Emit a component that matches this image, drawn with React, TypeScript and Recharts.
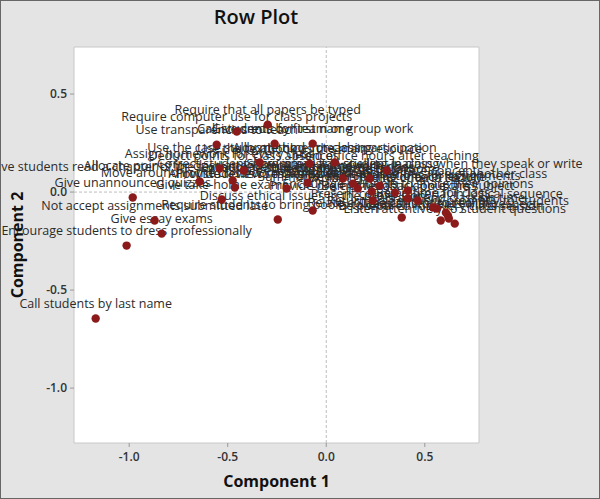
import React from "react"
import {
  ScatterChart,
  Scatter,
  XAxis,
  YAxis,
  ReferenceArea,
  ReferenceLine,
  Label,
} from "recharts"

// row names, component 1 and component 2 scores
const rowNames = [
  "Call students by last name",
  "Encourage students to dress professionally",
  "Give essay exams",
  "Not accept assignments submitted late",
  "Give unannounced quizzes",
  "Give take-home exams",
  "Discuss ethical issues in the profession",
  "Require students to bring books to class",
  "Require that all papers be typed",
  "Require computer use for class projects",
  "Call students by first name",
  "Use transparencies to teach",
  "Give credit for team or group work",
  "Use the case study method in teaching",
  "Allocate time for class participation",
  "Hold office hours after teaching",
  "Correct students' grammar and spelling in class when they speak or write",
  "Allow students to make up work missed because of another class",
  "Encourage students to share their opinions",
  "Provide prompt feedback on exams",
  "Return graded work promptly to students",
  "Present course material in logical sequence",
  "Listen attentively to student questions",
  "Relate course content to real life",
  "Be prepared for every class session",
  "Be on time for class",
  "Use humor in the classroom",
  "Summarize main points of each lecture",
  "Explain grading criteria clearly",
  "Give clear instructions for assignments",
  "Be enthusiastic about the subject",
  "Provide review sessions before exams",
  "Encourage students to ask questions",
  "Use the textbook as the main resource",
  "Have students read a chapter of the textbook before coming to each class",
  "Allocate points for class attendance and homework",
  "Move around in the classroom during lectures",
  "Treat all students with respect",
  "Start and end class on time",
  "Show interest in student learning",
  "Use examples to illustrate concepts",
  "Deduct points for class absences",
  "Assign homework for every class",
]

const comp1 = [
  -1.17, -1.013, -0.835, -0.871, -0.982, -0.53, -0.069, -0.246, -0.297, -0.454,
  -0.262, -0.556, -0.069, -0.338, 0.043, 0.307, 0.221, 0.16, 0.414, 0.236,
  0.617, 0.561, 0.652, 0.383, 0.581, 0.541, 0.135, 0.231, 0.348, 0.414,
  0.464, -0.201, -0.094, -0.084, -0.642, -0.475, -0.464, 0.622, 0.607, 0.084,
  0.272, -0.419, -0.541,
]

const comp2 = [
  -0.645, -0.273, -0.212, -0.145, -0.028, -0.038, -0.094, -0.14, 0.344, 0.309,
  0.247, 0.242, 0.247, 0.151, 0.151, 0.11, 0.069, 0.018, -0.033, -0.043,
  -0.12, -0.084, -0.161, -0.13, -0.145, -0.079, 0.043, 0.003, -0.003, 0.008,
  -0.043, 0.018, 0.048, 0.145, 0.054, 0.059, 0.023, -0.135, -0.105, 0.069,
  0.033, 0.11, 0.12,
]

const axisTicks = [-1, -0.5, 0, 0.5]

const data = rowNames.map((name, i) => ({ name, x: comp1[i], y: comp2[i] }))

const FONT = "'Open Sans', 'Noto Sans', sans-serif"

const NameLabel = (props: any) => {
  const { cx, cy, payload } = props
  return (
    <text
      x={cx}
      y={cy - 15}
      dy="0.35em"
      textAnchor="middle"
      fontSize={12.5}
      fontFamily={FONT}
      fill="#2b2b2b"
    >
      {payload.name}
    </text>
  )
}

const Dot = (props: any) => {
  const { cx, cy } = props
  return <circle cx={cx} cy={cy} r={4.2} fill="#8b1a1a" />
}

const fmt = (v: number) => v.toFixed(1)

export default function App() {
  return (
    <div
      style={{
        position: "fixed",
        left: 0,
        top: 0,
        width: 600,
        height: 499,
        boxSizing: "border-box",
        border: "1px solid #666",
        background: "#e4e4e4",
        fontFamily: FONT,
        overflow: "hidden",
      }}
    >
      <div
        style={{
          position: "absolute",
          left: 0,
          width: 510,
          top: 2,
          textAlign: "center",
          fontSize: 20,
          fontWeight: 600,
          color: "#111",
        }}
      >
        Row Plot
      </div>
      <div style={{ position: "absolute", left: -1, top: -1 }}>
        <ScatterChart
          width={600}
          height={499}
          margin={{ top: 47, right: 121, bottom: 0, left: 0 }}
          style={{ overflow: "visible" }}
        >
          <XAxis
            type="number"
            dataKey="x"
            domain={[-1.28, 0.775]}
            ticks={axisTicks}
            tickFormatter={fmt}
            height={56}
            axisLine={false}
            tickSize={4}
            tickMargin={5}
            tickLine={{ stroke: "#999" }}
            tick={{ fill: "#333", fontSize: 12, fontWeight: 600, fontFamily: FONT }}
          >
            <Label
              value="Component 1"
              position="insideBottom"
              offset={12}
              style={{ fill: "#111", fontSize: 16, fontWeight: 700, fontFamily: FONT }}
            />
          </XAxis>
          <YAxis
            type="number"
            dataKey="y"
            domain={[-1.28, 0.74]}
            ticks={axisTicks}
            tickFormatter={fmt}
            width={74}
            axisLine={false}
            tickSize={4}
            tickMargin={3}
            tickLine={{ stroke: "#999" }}
            tick={{ fill: "#333", fontSize: 12, fontWeight: 600, fontFamily: FONT }}
          >
            <Label
              value="Component 2"
              angle={-90}
              position="insideLeft"
              offset={17}
              style={{ textAnchor: "middle", fill: "#111", fontSize: 16, fontWeight: 700, fontFamily: FONT }}
            />
          </YAxis>
          <ReferenceArea
            x1={-1.28}
            x2={0.775}
            y1={-1.28}
            y2={0.74}
            fill="#fff"
            fillOpacity={1}
            stroke="#c8c8c8"
          />
          <ReferenceLine x={0} stroke="#bdbdbd" strokeDasharray="3 2" />
          <ReferenceLine y={0} stroke="#bdbdbd" strokeDasharray="3 2" />
          <Scatter data={data} shape={NameLabel} isAnimationActive={false} />
          <Scatter data={data} shape={Dot} isAnimationActive={false} />
        </ScatterChart>
      </div>
    </div>
  )
}
